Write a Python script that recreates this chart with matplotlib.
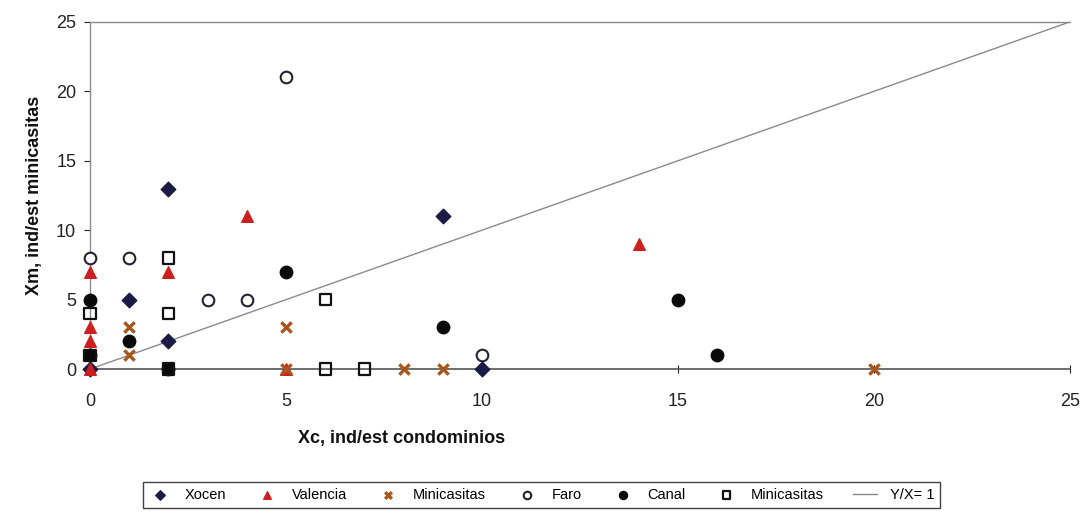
import matplotlib
matplotlib.use("Agg")
import matplotlib.pyplot as plt

plt.rcParams['font.family'] = ['Liberation Sans', 'DejaVu Sans']

xocen_x = [0, 1, 2, 2, 9, 10]
xocen_y = [0, 5, 13, 2, 11, 0]
valencia_x = [0, 0, 0, 0, 2, 4, 5, 14]
valencia_y = [0, 2, 3, 7, 7, 11, 0, 9]
mini1_x = [1, 1, 5, 5, 8, 9, 20]
mini1_y = [3, 1, 3, 0, 0, 0, 0]
faro_x = [0, 1, 3, 4, 5, 10]
faro_y = [8, 8, 5, 5, 21, 1]
canal_x = [0, 0, 1, 2, 5, 9, 15, 16]
canal_y = [5, 1, 2, 0, 7, 3, 5, 1]
mini2_x = [0, 0, 2, 2, 2, 6, 6, 7]
mini2_y = [4, 1, 8, 4, 0, 5, 0, 0]
line_x = [0, 25]
line_y = [0, 25]

xticks = [0, 5, 10, 15, 20, 25]
yticks = [0, 5, 10, 15, 20, 25]

fig = plt.figure(figsize=(10.85, 5.22), dpi=100)
ax = fig.add_axes([0.083, 0.293, 0.903, 0.665])

ax.plot(line_x, line_y, color='#8a8a8a', lw=1.0, label='Y/X= 1', zorder=1)
ax.scatter(xocen_x, xocen_y, marker='D', s=55, color='#1b1b45', label='Xocen', zorder=3, clip_on=False)
ax.scatter(valencia_x, valencia_y, marker='^', s=70, color='#cc2020', label='Valencia', zorder=3, clip_on=False)
ax.scatter(mini1_x, mini1_y, marker='x', s=55, color='#a8561c', linewidths=2.4, label='Minicasitas', zorder=4, clip_on=False)
ax.scatter(faro_x, faro_y, marker='o', s=70, facecolors='white', edgecolors='#222235', linewidths=1.5, label='Faro', zorder=3, clip_on=False)
ax.scatter(canal_x, canal_y, marker='o', s=80, color='#0a0a0a', label='Canal', zorder=3, clip_on=False)
ax.scatter(mini2_x, mini2_y, marker='s', s=65, facecolors='none', edgecolors='#111111', linewidths=1.6, label='Minicasitas', zorder=3, clip_on=False)

ax.set_xlim(0, 25)
ax.set_ylim(0, 25)
ax.set_xticks(xticks)
ax.set_yticks(yticks)
ax.tick_params(axis='both', labelsize=13, colors='#222222', length=4)
ax.tick_params(axis='x', direction='inout', length=6, pad=14)
ax.tick_params(axis='y', direction='out', pad=6)
ax.spines['right'].set_visible(False)
for s in ['left', 'top']:
    ax.spines[s].set_color('#8a8a8a')
    ax.spines[s].set_linewidth(1.0)
ax.spines['bottom'].set_color('#555555')
ax.spines['bottom'].set_linewidth(1.2)
for m in ax.get_xticklines() + ax.get_yticklines():
    m.set_color('#8a8a8a')

fig.text(0.37, 0.16, 'Xc, ind/est condominios', fontsize=13, fontweight='bold',
         ha='center', va='center', color='#111111')
fig.text(0.032, 0.625, 'Xm, ind/est minicasitas', fontsize=13, fontweight='bold',
         ha='center', va='center', rotation=90, color='#111111')

handles, labels = ax.get_legend_handles_labels()
order = [1, 2, 3, 4, 5, 6, 0]
leg = fig.legend([handles[i] for i in order], [labels[i] for i in order],
                 loc='center', bbox_to_anchor=(0.499, 0.052), ncol=7, fontsize=10.5,
                 frameon=True, fancybox=False, edgecolor='#111111', markerscale=0.65,
                 handlelength=1.6, columnspacing=2.0, handletextpad=0.9,
                 borderpad=0.4)
leg.get_frame().set_linewidth(1.0)

fig.savefig('out.png', dpi=100)
